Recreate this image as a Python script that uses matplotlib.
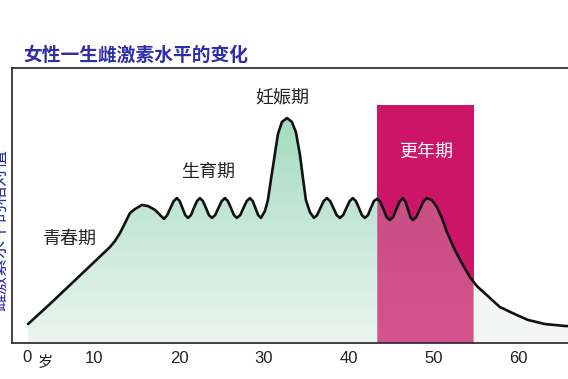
import numpy as np
import matplotlib.pyplot as plt
from matplotlib.patches import Polygon, Rectangle
from matplotlib.colors import to_rgb

plt.rcParams['font.family'] = ['Noto Sans CJK SC', 'DejaVu Sans']

# 年龄(岁) 和 雌激素相对水平(0-100)
age = [2.24, 4.82, 7.18, 9.53, 11.88, 12.47, 13.06, 13.65, 14.24, 14.82,
       15.65, 16.35, 17.18, 18.24,
       18.62, 19.0, 19.38, 19.76, 20.09, 20.41, 20.74, 21.06,
       21.41, 21.76, 22.12, 22.47, 22.82, 23.18, 23.53, 23.88,
       24.26, 24.65, 25.03, 25.41, 25.76, 26.12, 26.47, 26.82,
       27.21, 27.59, 27.97, 28.35, 28.68, 29.0, 29.32, 29.65,
       30.12, 30.47, 30.82, 31.18, 31.65, 32.12, 32.71, 33.29, 33.76,
       34.24, 34.59, 34.94, 35.41, 35.88,
       36.26, 36.65, 37.03, 37.41, 37.79, 38.18, 38.56, 38.94,
       39.32, 39.71, 40.09, 40.47, 40.82, 41.18, 41.53, 41.88,
       42.24, 42.59, 42.94, 43.29, 43.68, 44.06, 44.44, 44.82,
       45.21, 45.59, 45.97, 46.35, 46.65, 46.94, 47.24, 47.53,
       47.94, 48.35, 48.76, 49.18,
       49.76, 50.35, 50.94, 51.53, 52.47, 53.41, 54.24, 55.06, 56.59,
       57.76, 59.53, 61.06, 63.06, 65.41, 68.35]
level = [6.9, 14.2, 21.1, 28.0, 34.9, 37.1, 40.0, 43.6, 47.3, 48.7,
         50.2, 49.8, 48.4, 45.1,
         46.5, 49.1, 51.6, 52.7, 51.6, 49.1, 46.5, 45.5,
         46.5, 49.1, 51.6, 52.7, 51.6, 49.1, 46.5, 45.5,
         46.5, 49.1, 51.6, 52.7, 51.6, 49.1, 46.5, 45.5,
         46.5, 49.1, 51.6, 52.7, 51.6, 49.1, 46.5, 45.5,
         48.0, 52.0, 59.3, 66.5, 76.0, 80.4, 81.8, 80.4, 76.7,
         68.4, 60.0, 52.0, 47.6, 45.5,
         46.5, 49.1, 51.6, 52.7, 51.6, 49.1, 46.5, 45.5,
         46.5, 49.1, 51.6, 52.7, 51.6, 49.1, 46.5, 45.5,
         46.5, 49.1, 51.6, 52.4, 51.4, 48.7, 45.8, 44.7,
         45.8, 48.7, 51.4, 52.7, 51.4, 48.7, 45.8, 44.7,
         45.8, 48.7, 51.4, 52.7,
         52.0, 49.5, 45.5, 40.4, 33.8, 28.4, 24.0, 20.7, 16.4,
         13.1, 10.5, 8.4, 6.9, 6.2, 5.8]

tick_years = [10, 20, 30, 40, 50, 60]
meno_start, meno_end, meno_top = 43.3, 54.7, 86.5

phase_names = ['青春期', '生育期', '妊娠期', '更年期']
phase_x = [7.2, 23.4, 32.2, 49.1]
phase_y = [37.8, 62.2, 89.1, 69.5]
phase_colors = ['#222222', '#222222', '#222222', 'white']

fig = plt.figure(figsize=(5.68, 3.79), dpi=100)
ax = fig.add_axes([12 / 568, 36 / 379, 585 / 568, 275 / 379])

# 更年期色块
ax.add_patch(Rectangle((meno_start, 0), meno_end - meno_start, meno_top,
                       facecolor='#CC1566', edgecolor='none', zorder=1))

# 曲线下方的渐变填充
W, H = 700, 300
xs = np.linspace(age[0], age[-1], W)
ys = np.linspace(0, 83, H)
g_top = np.array(to_rgb('#A3DAC0'))
g_bot = np.array(to_rgb('#EAF6F0'))
t = (ys / 83)[:, None]
col = g_bot + (g_top - g_bot) * t
img = np.ones((H, W, 4))
img[:, :, :3] = col[:, None, :]
inside = (xs >= meno_start) & (xs <= meno_end)
img[:, inside, 3] = 0.28
right = xs > meno_end
img[:, right, :3] = to_rgb('#F4F6F5')
im = ax.imshow(img, extent=(xs[0], xs[-1], 0, 83), origin='lower',
               aspect='auto', zorder=2, interpolation='bilinear')
poly = Polygon(np.column_stack([np.r_[age[0], age, age[-1]],
                                np.r_[0, level, 0]]),
               closed=True, facecolor='none', edgecolor='none')
ax.add_patch(poly)
im.set_clip_path(poly)

ax.plot(age, level, color='#111111', lw=1.9, zorder=3,
        solid_joinstyle='round', solid_capstyle='round')

for name, x, y, c in zip(phase_names, phase_x, phase_y, phase_colors):
    ax.text(x, y, name, ha='center', va='center', fontsize=13, color=c, zorder=4)

ax.set_xlim(0.35, 69.2)
ax.set_ylim(0, 100)
ax.set_yticks([])
ax.set_xticks(tick_years)
ax.set_xticklabels([str(v) for v in tick_years], fontsize=12, color='#222222',
                   family=['Liberation Sans', 'Noto Sans CJK SC'])
ax.tick_params(axis='x', length=0, pad=6)
for s in ax.spines.values():
    s.set_color('#333333')
    s.set_linewidth(1.3)

ax.annotate('0', xy=(0, 0), xycoords='axes fraction', xytext=(15, -15),
            textcoords='offset pixels', ha='center', va='center', fontsize=12,
            color='#222222', family=['Liberation Sans', 'Noto Sans CJK SC'])
ax.annotate('岁', xy=(0, 0), xycoords='axes fraction', xytext=(33, -19),
            textcoords='offset pixels', ha='center', va='center', fontsize=11,
            color='#222222')

fig.text(23 / 568, 1 - 55 / 379, '女性一生雌激素水平的变化', fontsize=13.5,
         fontweight='bold', color='#2E2FA6', ha='left', va='center')
# 左侧纵轴说明, 原图中也被裁掉一半
fig.text(0.0, 1 - 230 / 379, '雌激素水平的相对值', rotation=90, fontsize=13,
         color='#2E2FA6', ha='center', va='center')

fig.savefig('out.png', dpi=100)
